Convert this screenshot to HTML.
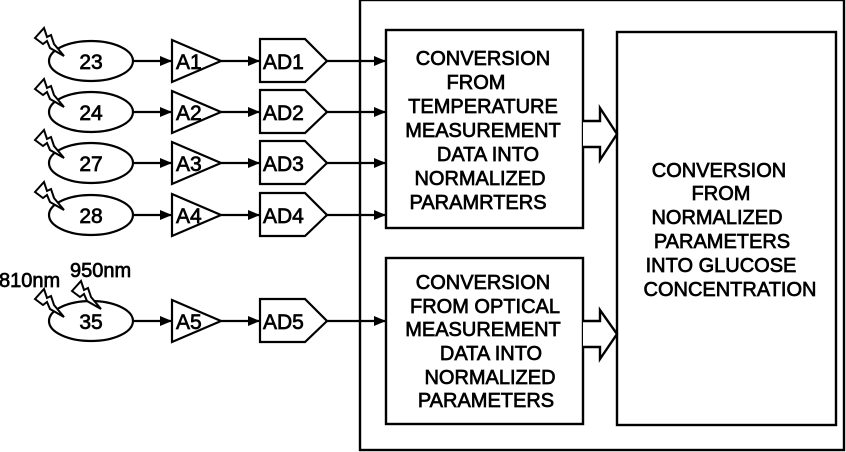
<!DOCTYPE html>
<html><head><meta charset="utf-8"><style>
html,body{margin:0;padding:0;background:#fff;}
svg{display:block;}
text{font-family:"Liberation Sans",Arial,sans-serif;fill:#000;stroke:#000;stroke-width:0.7;}
</style></head><body>
<svg width="846" height="452" viewBox="0 0 846 452" xmlns="http://www.w3.org/2000/svg">
<defs>
<marker id="ah" markerWidth="12" markerHeight="10" refX="12" refY="5" orient="auto" markerUnits="userSpaceOnUse">
<path d="M0,0 L12,5 L0,10 Z" fill="#000"/>
</marker>
<g id="bolt"><path d="M35,38 L44,28 L47,37 L51,35 L54,44 L64,56 L50,48 L47,41 L43,44 Z" fill="#fff" stroke="#000" stroke-width="2" stroke-linejoin="miter"/></g>
<g id="row">
<ellipse cx="91" cy="61" rx="42" ry="20" fill="#fff"/>
<line x1="133" y1="61" x2="172" y2="61" marker-end="url(#ah)"/>
<path d="M172,40 L221,61 L172,82 Z" fill="#fff"/>
<line x1="221" y1="61" x2="260" y2="61" marker-end="url(#ah)"/>
<path d="M260,39 L305,39 L327,61 L305,82 L260,82 Z" fill="#fff"/>
<line x1="327" y1="61" x2="386" y2="61" marker-end="url(#ah)"/>
</g>
</defs>
<g stroke="#000" stroke-width="2.4" fill="none">
<rect x="360" y="0" width="484" height="450"/>
<rect x="386" y="30" width="197" height="198"/>
<rect x="386" y="258" width="197" height="166"/>
<rect x="617" y="32" width="219" height="393"/>
<path d="M583,121 L600,121 L600,108 L617,134 L600,160 L600,147 L583,147" fill="#fff"/>
<path d="M583,321 L600,321 L600,310 L617,334 L600,359 L600,347 L583,347" fill="#fff"/>
</g>
<g font-size="20" text-anchor="middle">
<text x="483" y="65">CONVERSION</text>
<text x="476" y="89">FROM</text>
<text x="483" y="113">TEMPERATURE</text>
<text x="483" y="137">MEASUREMENT</text>
<text x="488" y="161">DATA INTO</text>
<text x="480" y="185">NORMALIZED</text>
<text x="478" y="209">PARAMRTERS</text>
<text x="483" y="289">CONVERSION</text>
<text x="485" y="313">FROM OPTICAL</text>
<text x="483" y="336">MEASUREMENT</text>
<text x="491" y="360">DATA INTO</text>
<text x="490" y="384">NORMALIZED</text>
<text x="486" y="407">PARAMETERS</text>
<text x="719" y="177">CONVERSION</text>
<text x="721" y="200">FROM</text>
<text x="717" y="224">NORMALIZED</text>
<text x="722" y="248">PARAMETERS</text>
<text x="721" y="272">INTO GLUCOSE</text>
<text x="730" y="296">CONCENTRATION</text>
</g>
<g stroke="#000" stroke-width="2.2" fill="none">
<use href="#row"/>
<use href="#row" transform="translate(0,51)"/>
<use href="#row" transform="translate(0,102)"/>
<use href="#row" transform="translate(0,154)"/>
<use href="#row" transform="translate(0,260)"/>
</g>
<use href="#bolt"/>
<use href="#bolt" transform="translate(0,51)"/>
<use href="#bolt" transform="translate(0,102)"/>
<use href="#bolt" transform="translate(0,154)"/>
<use href="#bolt" transform="translate(0,261)"/>
<use href="#bolt" transform="translate(37,253)"/>
<g font-size="21">
<text x="91" y="69" text-anchor="middle">23</text>
<text x="91" y="120" text-anchor="middle">24</text>
<text x="91" y="171" text-anchor="middle">27</text>
<text x="91" y="223" text-anchor="middle">28</text>
<text x="91" y="329" text-anchor="middle">35</text>
<text x="176" y="69">A1</text>
<text x="176" y="120">A2</text>
<text x="176" y="171">A3</text>
<text x="176" y="223">A4</text>
<text x="176" y="329">A5</text>
<text x="263" y="69">AD1</text>
<text x="263" y="120">AD2</text>
<text x="263" y="171">AD3</text>
<text x="263" y="223">AD4</text>
<text x="263" y="329">AD5</text>
<text x="-1" y="287" font-size="20">810nm</text>
<text x="70" y="277" font-size="20">950nm</text>
</g>
</svg>
</body></html>
